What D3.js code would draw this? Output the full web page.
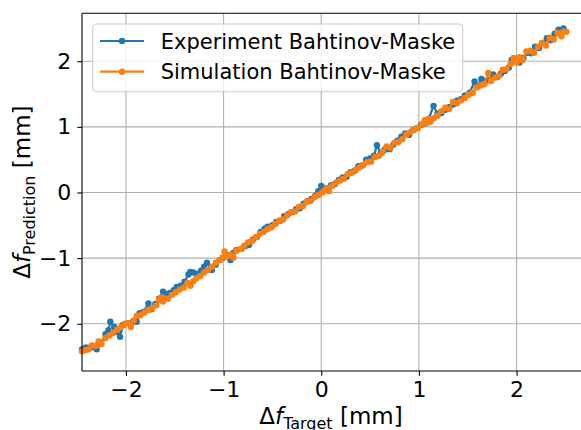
<html>
<script src='https://d3js.org/d3.v7.min.js'></script>
<style>
body {margin: 0; background: white;}
text {font-family: 'DejaVu Sans', sans-serif; fill: black;}
</style>
<body onload='init()'>
<svg width=581 height=430></svg>
<script>
// experiment: target / prediction
var expTarget = [-2.45,-2.41,-2.37,-2.33,-2.30,-2.26,-2.21,-2.18,-2.16,-2.12,-2.08,-2.06,-2.03,-1.98,-1.93,-1.89,-1.86,-1.82,-1.77,-1.74,-1.70,-1.66,-1.62,-1.58,-1.55,-1.51,-1.48,-1.44,-1.40,-1.36,-1.34,-1.31,-1.27,-1.23,-1.20,-1.17,-1.12,-1.08,-1.04,-1.00,-0.96,-0.93,-0.90,-0.87,-0.82,-0.78,-0.74,-0.70,-0.66,-0.62,-0.58,-0.55,-0.50,-0.46,-0.42,-0.38,-0.34,-0.30,-0.26,-0.22,-0.18,-0.14,-0.10,-0.06,-0.03,0.00,0.03,0.06,0.10,0.14,0.18,0.22,0.26,0.30,0.34,0.38,0.42,0.46,0.50,0.54,0.57,0.61,0.65,0.70,0.74,0.78,0.82,0.86,0.90,0.94,0.98,1.02,1.06,1.10,1.15,1.19,1.23,1.27,1.31,1.35,1.39,1.43,1.47,1.52,1.57,1.60,1.64,1.68,1.72,1.76,1.80,1.84,1.88,1.92,1.95,1.99,2.03,2.07,2.11,2.15,2.19,2.23,2.27,2.31,2.35,2.39,2.43,2.46,2.48];
var expPred = [-2.39,-2.36,-2.37,-2.35,-2.39,-2.30,-2.16,-2.10,-1.97,-2.05,-2.13,-2.20,-2.02,-1.99,-1.97,-1.97,-1.84,-1.82,-1.69,-1.78,-1.70,-1.62,-1.51,-1.55,-1.53,-1.49,-1.44,-1.42,-1.36,-1.25,-1.21,-1.22,-1.24,-1.19,-1.13,-1.07,-1.18,-1.10,-1.03,-0.99,-0.95,-1.03,-0.92,-0.88,-0.86,-0.82,-0.80,-0.72,-0.68,-0.60,-0.55,-0.52,-0.50,-0.45,-0.43,-0.36,-0.33,-0.30,-0.26,-0.24,-0.17,-0.13,-0.10,-0.05,0.02,0.10,0.06,0.04,0.11,0.13,0.19,0.23,0.24,0.31,0.33,0.40,0.41,0.50,0.52,0.56,0.72,0.60,0.65,0.66,0.73,0.79,0.85,0.90,0.88,0.95,0.98,1.03,1.05,1.12,1.32,1.20,1.21,1.26,1.30,1.34,1.40,1.42,1.48,1.52,1.69,1.62,1.73,1.70,1.71,1.80,1.76,1.81,1.85,1.90,2.02,2.02,1.98,2.05,2.13,2.12,2.22,2.20,2.28,2.35,2.32,2.42,2.48,2.45,2.50];
// simulation: target / prediction
var simTarget = [-2.45,-2.41,-2.38,-2.35,-2.31,-2.28,-2.25,-2.21,-2.17,-2.13,-2.09,-2.05,-2.01,-1.98,-1.95,-1.92,-1.89,-1.85,-1.81,-1.77,-1.73,-1.69,-1.66,-1.64,-1.62,-1.60,-1.57,-1.53,-1.49,-1.45,-1.41,-1.37,-1.34,-1.31,-1.28,-1.24,-1.20,-1.16,-1.12,-1.08,-1.04,-1.01,-0.99,-0.96,-0.93,-0.90,-0.87,-0.83,-0.79,-0.75,-0.71,-0.67,-0.63,-0.59,-0.55,-0.51,-0.47,-0.43,-0.39,-0.35,-0.31,-0.27,-0.23,-0.19,-0.15,-0.11,-0.07,-0.03,0.01,0.04,0.06,0.08,0.11,0.15,0.19,0.23,0.27,0.31,0.35,0.39,0.43,0.47,0.51,0.55,0.59,0.63,0.67,0.71,0.75,0.79,0.83,0.87,0.91,0.95,0.99,1.03,1.06,1.08,1.10,1.12,1.15,1.19,1.23,1.27,1.31,1.35,1.39,1.43,1.47,1.51,1.55,1.59,1.63,1.67,1.71,1.74,1.78,1.82,1.86,1.90,1.94,1.97,2.00,2.03,2.06,2.10,2.14,2.18,2.22,2.26,2.30,2.34,2.38,2.42,2.46,2.48,2.51];
var simPred = [-2.42,-2.40,-2.39,-2.33,-2.34,-2.27,-2.31,-2.22,-2.18,-2.14,-2.09,-2.05,-2.00,-1.99,-2.05,-1.95,-1.88,-1.87,-1.83,-1.79,-1.76,-1.72,-1.64,-1.60,-1.66,-1.62,-1.62,-1.56,-1.52,-1.48,-1.45,-1.38,-1.42,-1.35,-1.31,-1.27,-1.22,-1.18,-1.13,-1.07,-1.03,-0.99,-0.90,-0.97,-0.95,-0.99,-0.89,-0.86,-0.81,-0.76,-0.74,-0.68,-0.63,-0.60,-0.56,-0.53,-0.48,-0.43,-0.41,-0.35,-0.30,-0.29,-0.22,-0.21,-0.14,-0.13,-0.07,-0.04,0.00,0.04,0.07,0.02,0.10,0.15,0.18,0.21,0.28,0.30,0.34,0.38,0.42,0.46,0.47,0.54,0.56,0.62,0.70,0.68,0.76,0.77,0.81,0.88,0.92,0.96,0.98,1.04,1.10,1.06,1.12,1.08,1.13,1.17,1.24,1.29,1.27,1.38,1.36,1.40,1.44,1.49,1.52,1.60,1.63,1.65,1.82,1.70,1.75,1.78,1.87,1.88,1.96,2.05,1.98,2.06,2.02,2.15,2.16,2.13,2.22,2.28,2.24,2.36,2.33,2.43,2.38,2.45,2.45];
var xTicks = [-2, -1, 0, 1, 2];
var yTicks = [-2, -1, 0, 1, 2];
var seriesNames = ['Experiment Bahtinov-Maske', 'Simulation Bahtinov-Maske'];
var colors = ['#1f77b4', '#ff7f0e'];

function init() {
    var left = 82, top = 13.3, bottom = 371, right = 581;
    var x = d3.scaleLinear().domain([-2.45, 2.66]).range([left, right]);
    var y = d3.scaleLinear().domain([-2.72, 2.73]).range([bottom, top]);
    var svg = d3.select('svg');

    // grid
    svg.append('g').selectAll('line').data(xTicks).enter().append('line')
        .attr('x1', d => x(d)).attr('x2', d => x(d)).attr('y1', top).attr('y2', bottom)
        .attr('stroke', '#b0b0b0').attr('stroke-width', 1.1);
    svg.append('g').selectAll('line').data(yTicks).enter().append('line')
        .attr('y1', d => y(d)).attr('y2', d => y(d)).attr('x1', left).attr('x2', right + 5)
        .attr('stroke', '#b0b0b0').attr('stroke-width', 1.1);

    // series
    var sets = [[expTarget, expPred], [simTarget, simPred]];
    sets.forEach(function(s, i) {
        var pts = s[0].map((t, k) => [t, s[1][k]]);
        var line = d3.line().x(d => x(d[0])).y(d => y(d[1]));
        svg.append('path').datum(pts).attr('d', line).attr('fill', 'none')
            .attr('stroke', colors[i]).attr('stroke-width', 2.2);
        svg.append('g').selectAll('circle').data(pts).enter().append('circle')
            .attr('cx', d => x(d[0])).attr('cy', d => y(d[1])).attr('r', 3.2)
            .attr('fill', colors[i]);
    });

    // spines
    svg.append('line').attr('x1', left).attr('x2', left).attr('y1', top).attr('y2', bottom).attr('stroke', 'black').attr('stroke-width', 1.1);
    svg.append('line').attr('x1', left).attr('x2', right + 5).attr('y1', bottom).attr('y2', bottom).attr('stroke', 'black').attr('stroke-width', 1.1);
    svg.append('line').attr('x1', left).attr('x2', right + 5).attr('y1', top).attr('y2', top).attr('stroke', 'black').attr('stroke-width', 1.1);

    // axes
    var fmt = d => d < 0 ? '\u2212' + Math.abs(d) : String(d);
    var xa = svg.append('g').attr('transform', 'translate(0,' + bottom + ')')
        .call(d3.axisBottom(x).tickValues(xTicks).tickFormat(fmt).tickSize(4.7).tickPadding(6));
    var ya = svg.append('g').attr('transform', 'translate(' + left + ',0)')
        .call(d3.axisLeft(y).tickValues(yTicks).tickFormat(fmt).tickSize(4.7).tickPadding(6));
    [xa, ya].forEach(function(a) {
        a.select('.domain').remove();
        a.selectAll('line').attr('stroke', 'black').attr('stroke-width', 1.1);
        a.selectAll('text').style('font-family', 'DejaVu Sans').style('font-size', '22px').attr('fill', 'black');
    });

    // axis labels
    function mathLabel(g, sub) {
        var t = g.append('text').style('font-size', '23px');
        t.append('tspan').text('\u0394');
        t.append('tspan').style('font-style', 'italic').text('f');
        t.append('tspan').style('font-size', '16px').attr('dy', 5).text(sub);
        t.append('tspan').attr('dy', -5).text('\u00a0[mm]');
        return t;
    }
    mathLabel(svg, 'Target').attr('x', (left + 580) / 2).attr('y', 424).attr('text-anchor', 'middle');
    mathLabel(svg, 'Prediction').attr('text-anchor', 'middle')
        .attr('transform', 'translate(30,' + (top + bottom) / 2 + ') rotate(-90)');

    // legend
    var lg = svg.append('g');
    lg.append('rect').attr('x', 92.7).attr('y', 24).attr('width', 370).attr('height', 67.7).attr('rx', 4)
        .attr('fill', 'white').attr('fill-opacity', 0.8).attr('stroke', '#cccccc').attr('stroke-width', 1.1);
    seriesNames.forEach(function(n, i) {
        var cy = 41 + i * 30.7;
        lg.append('line').attr('x1', 100).attr('x2', 144).attr('y1', cy).attr('y2', cy)
            .attr('stroke', colors[i]).attr('stroke-width', 2.2);
        lg.append('circle').attr('cx', 122).attr('cy', cy).attr('r', 3.2).attr('fill', colors[i]);
        lg.append('text').attr('x', 160.7).attr('y', cy + 7.6).style('font-size', '21px').text(n);
    });
}
</script>
</body>
</html>
